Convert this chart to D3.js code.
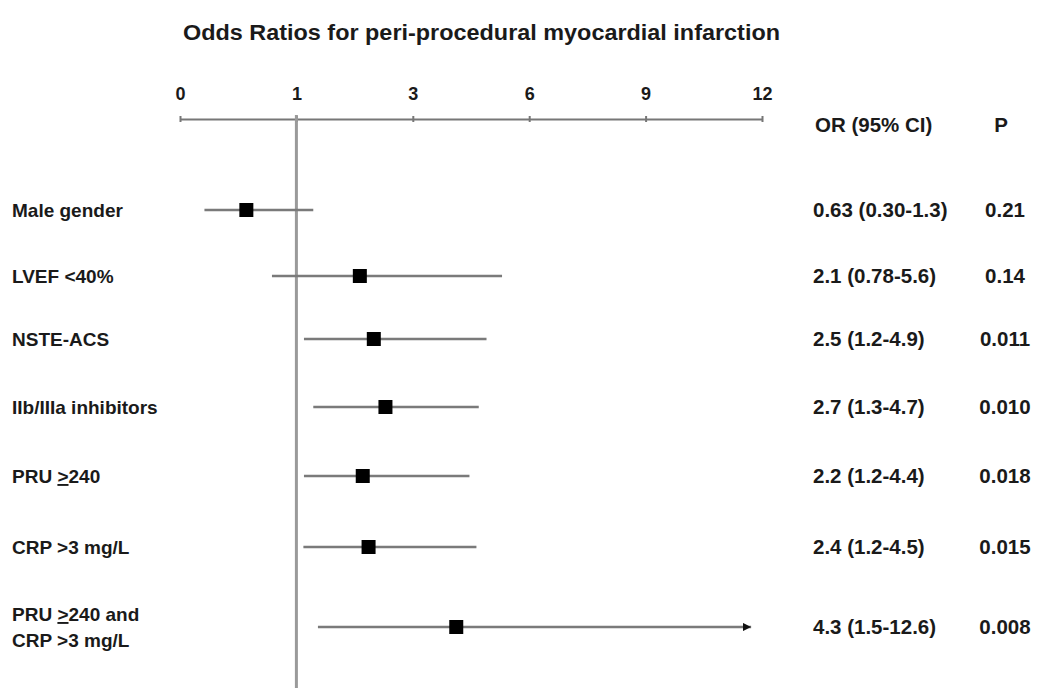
<!DOCTYPE html>
<html>
<head>
<meta charset="utf-8">
<script src="https://cdn.jsdelivr.net/npm/d3@7"></script>
<style>
  body { margin: 0; background: #fff; }
  svg { display: block; font-family: "Liberation Sans", Arial, sans-serif; }
</style>
</head>
<body>
<svg width="1037" height="688"></svg>
<script>
const title = "Odds Ratios for peri-procedural myocardial infarction";
const tickValues = [0, 1, 3, 6, 9, 12];
const labels = [["Male gender"], ["LVEF <40%"], ["NSTE-ACS"], ["IIb/IIIa inhibitors"],
    ["PRU ≥240"], ["CRP >3 mg/L"], ["PRU ≥240 and", "CRP >3 mg/L"]];
// plotted point estimates and CI ends
const orPlot = [0.57, 2.09, 2.33, 2.53, 2.14, 2.24, 4.12];
const ciLow = [0.21, 0.79, 1.13, 1.29, 1.13, 1.12, 1.37];
const ciHigh = [1.29, 5.30, 4.90, 4.70, 4.46, 4.64, 11.72];
const orText = ["0.63 (0.30-1.3)", "2.1 (0.78-5.6)", "2.5 (1.2-4.9)", "2.7 (1.3-4.7)",
    "2.2 (1.2-4.4)", "2.4 (1.2-4.5)", "4.3 (1.5-12.6)"];
const pText = ["0.21", "0.14", "0.011", "0.010", "0.018", "0.015", "0.008"];
const arrowed = [false, false, false, false, false, false, true];

const svg = d3.select("svg");
const ink = "#1a1a1a";
const axisY = 119;

// ticks are evenly spaced although the values are not
let x = d3.scaleLinear()
    .domain(tickValues)
    .range(tickValues.map((d, i) => 180 + i * 116.4));

let y = d3.scaleLinear()
    .domain(d3.range(labels.length))
    .range([210, 276, 339, 407, 476, 547, 627]);

svg.append("text")
    .attr("x", 183).attr("y", 40)
    .attr("fill", ink)
    .attr("textLength", 597).attr("lengthAdjust", "spacingAndGlyphs")
    .style("font-size", "22px").style("font-weight", "bold")
    .text(title);

// axis along the top
let axis = svg.append("g")
    .attr("transform", `translate(0, ${axisY})`)
    .call(d3.axisTop(x).tickValues(tickValues).tickSize(3).tickSizeOuter(0).tickPadding(16));
axis.select(".domain").attr("stroke", "#777").attr("stroke-width", 2);
axis.selectAll(".tick line").attr("stroke", "#777").attr("stroke-width", 2).attr("y2", -3).attr("y1", 3);
axis.selectAll(".tick text")
    .attr("fill", ink)
    .style("font-size", "18px").style("font-weight", "bold")
    .style("font-family", "'Liberation Sans', Arial, sans-serif");

// reference line at OR = 1
svg.append("line")
    .attr("x1", x(1)).attr("x2", x(1))
    .attr("y1", axisY - 4).attr("y2", 688)
    .attr("stroke", "#9a9a9a").attr("stroke-width", 3);

svg.append("defs").append("marker")
    .attr("id", "arrow")
    .attr("viewBox", "0 0 10 10")
    .attr("refX", 10).attr("refY", 5)
    .attr("markerWidth", 3.2).attr("markerHeight", 3.2)
    .attr("markerUnits", "strokeWidth")
    .attr("orient", "auto")
    .append("path").attr("d", "M0,0L10,5L0,10Z").attr("fill", "#111");

const rowIdx = d3.range(labels.length);

svg.selectAll(".ci")
    .data(rowIdx)
    .enter().append("line")
    .attr("class", "ci")
    .attr("x1", i => x(ciLow[i]))
    .attr("x2", i => x(ciHigh[i]))
    .attr("y1", i => y(i)).attr("y2", i => y(i))
    .attr("stroke", "#7a7a7a").attr("stroke-width", 2.6)
    .attr("marker-end", i => arrowed[i] ? "url(#arrow)" : null);

svg.selectAll(".pt")
    .data(rowIdx)
    .enter().append("rect")
    .attr("class", "pt")
    .attr("x", i => x(orPlot[i]) - 7)
    .attr("y", i => y(i) - 7)
    .attr("width", 14).attr("height", 14)
    .attr("fill", "#000");

// row labels, "≥" drawn as an underlined ">"
function writeLine(sel, str) {
    let parts = str.split("≥");
    parts.forEach((p, k) => {
        if (k > 0) sel.append("tspan").style("text-decoration", "underline").text(">");
        sel.append("tspan").text(p);
    });
}

svg.selectAll(".lab")
    .data(rowIdx)
    .enter().append("text")
    .attr("class", "lab")
    .attr("fill", ink)
    .style("font-size", "19px").style("font-weight", "bold")
    .each(function (i) {
        let lines = labels[i];
        let t = d3.select(this);
        lines.forEach((ln, k) => {
            let yy = y(i) + 7 + (k - (lines.length - 1) / 2) * 26;
            let tl = t.append("tspan").attr("x", 12).attr("y", yy);
            writeLine(tl, ln);
        });
    });

// right hand columns
const colFont = "20.5px";
svg.append("text").attr("x", 815).attr("y", 132).attr("fill", ink)
    .style("font-size", colFont).style("font-weight", "bold").text("OR (95% CI)");
svg.append("text").attr("x", 1001).attr("y", 132).attr("fill", ink)
    .attr("text-anchor", "middle")
    .style("font-size", colFont).style("font-weight", "bold").text("P");

svg.selectAll(".ort")
    .data(rowIdx)
    .enter().append("text")
    .attr("x", 813).attr("y", i => y(i) + 7)
    .attr("fill", ink)
    .style("font-size", colFont).style("font-weight", "bold")
    .text(i => orText[i]);

svg.selectAll(".pv")
    .data(rowIdx)
    .enter().append("text")
    .attr("x", 1005).attr("y", i => y(i) + 7)
    .attr("text-anchor", "middle")
    .attr("fill", ink)
    .style("font-size", colFont).style("font-weight", "bold")
    .text(i => pText[i]);
</script>
</body>
</html>
